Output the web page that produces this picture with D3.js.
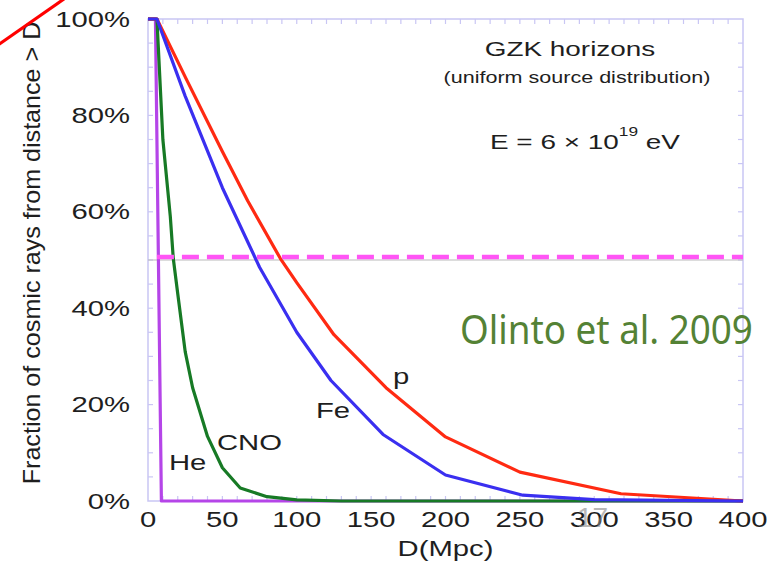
<!DOCTYPE html>
<html>
<head>
<meta charset="utf-8">
<script src="https://cdn.jsdelivr.net/npm/d3@7"></script>
<style>
  html, body { margin: 0; padding: 0; background: #fff; }
  svg { display: block; }
</style>
</head>
<body>
<svg id="chart" width="773" height="561"></svg>
<script>
// Distance (Mpc) and fraction (%) of cosmic rays arriving from beyond D
const distanceTicks = [0, 50, 100, 150, 200, 250, 300, 350, 400];
const fractionTicks = [0, 20, 40, 60, 80, 100];

const protonD = [0, 6, 25, 50, 67, 89, 100, 125, 160, 200, 250, 318, 400];
const protonF = [100, 100, 88, 72.5, 62.3, 50.3, 45.3, 34.5, 23.5, 13.3, 6, 1.5, 0];

const ironD = [0, 6, 25, 50, 75, 100, 123, 158, 200, 252, 300, 400];
const ironF = [100, 100, 84, 65, 48.5, 35, 25, 13.8, 5.4, 1.2, 0.3, 0];

const cnoD = [0, 6, 10, 15, 17, 20, 25, 30, 40, 50, 62, 80, 100, 130, 400];
const cnoF = [100, 100, 75, 59, 50.3, 43, 31, 23.5, 13.4, 6.9, 2.7, 0.9, 0.25, 0, 0];

const heliumD = [0, 5, 9, 400];
const heliumF = [100, 100, 0, 0];

const halfLevel = 50.6;       // dashed "half of the flux" marker
const halfStart = 6;

const series = [
  { name: "He",  d: heliumD, f: heliumF, color: "#b545e8" },
  { name: "CNO", d: cnoD,    f: cnoF,    color: "#177a25" },
  { name: "p",   d: protonD, f: protonF, color: "#ff2a12" },
  { name: "Fe",  d: ironD,   f: ironF,   color: "#3a2ff0" }
];

const svg = d3.select("#chart");
const FONT = "'Liberation Sans', Arial, Helvetica, sans-serif";
const SX = 1.33; // horizontal stretch of the lettering

const x = d3.scaleLinear().domain([0, 400]).range([148, 743]);
const y = d3.scaleLinear().domain([0, 100]).range([501, 19]);

function label(txt, px, py, size, anchor, opts = {}) {
  return svg.append("text")
    .attr("transform", `translate(${px},${py}) scale(${opts.sx ?? SX},1)`)
    .attr("font-family", opts.family ?? FONT)
    .attr("font-size", size)
    .attr("fill", opts.fill ?? "#1e1e1e")
    .attr("text-anchor", anchor)
    .text(txt);
}

// frame
const frameColor = "#c9c6f4";
svg.append("rect")
  .attr("x", x(0)).attr("y", y(100))
  .attr("width", x(400) - x(0)).attr("height", y(0) - y(100))
  .attr("fill", "none").attr("stroke", frameColor).attr("stroke-width", 1.5);

// inward ticks on all four sides
const tickLen = 5;
const xMinor = d3.range(10, 400, 10);
const yMinor = d3.range(5, 100, 5);
const tickG = svg.append("g").attr("stroke", frameColor).attr("stroke-width", 1.2);
xMinor.forEach(v => {
  tickG.append("line").attr("x1", x(v)).attr("x2", x(v)).attr("y1", y(0)).attr("y2", y(0) - tickLen);
  tickG.append("line").attr("x1", x(v)).attr("x2", x(v)).attr("y1", y(100)).attr("y2", y(100) + tickLen);
});
yMinor.forEach(v => {
  tickG.append("line").attr("y1", y(v)).attr("y2", y(v)).attr("x1", x(0)).attr("x2", x(0) + tickLen);
  tickG.append("line").attr("y1", y(v)).attr("y2", y(v)).attr("x1", x(400)).attr("x2", x(400) - tickLen);
});

// faint 50% reference line
svg.append("line")
  .attr("x1", x(0)).attr("x2", x(400)).attr("y1", y(50)).attr("y2", y(50))
  .attr("stroke", "#b9b9b9").attr("stroke-width", 1);

// tick labels
distanceTicks.forEach(v => label(String(v), x(v), 527, 22, "middle"));
fractionTicks.forEach(v => label(v + "%", 130, y(v) + 7.5, 22, "end"));

// axis titles
label("D(Mpc)", (x(0) + x(400)) / 2, 556, 22, "middle");
const yTitle = svg.append("text")
  .attr("font-family", FONT).attr("font-size", 22).attr("fill", "#1e1e1e")
  .attr("text-anchor", "middle")
  .text("Fraction of cosmic rays from distance > D");
const yLen = yTitle.node().getComputedTextLength();
yTitle.attr("transform", `translate(40,253) rotate(-90) scale(${463 / yLen},1.08)`);

// survival curves
const line = d3.line().x(p => x(p[0])).y(p => y(p[1]));
series.forEach(s => {
  const pts = s.d.map((d, i) => [d, s.f[i]]);
  svg.append("path")
    .attr("d", line(pts))
    .attr("fill", "none")
    .attr("stroke", s.color)
    .attr("stroke-width", 3.2)
    .attr("stroke-linejoin", "round");
});

// half-flux dashed marker
svg.append("line")
  .attr("x1", x(halfStart)).attr("x2", x(400))
  .attr("y1", y(halfLevel)).attr("y2", y(halfLevel))
  .attr("stroke", "#ff55f5").attr("stroke-width", 4.5)
  .attr("stroke-dasharray", "17 8");

// curve names
label("p", 393, 384, 22, "start");
label("Fe", 316, 418, 22, "start");
label("CNO", 217, 450, 22, "start");
label("He", 169, 470, 22, "start");

// header text
label("GZK horizons", 570, 56, 21, "middle");
label("(uniform source distribution)", 577, 83, 16.2, "middle");
const eq = label("E = 6 \u00d7 10", 490, 149, 21, "start");
eq.append("tspan").attr("font-size", 13).attr("dy", -13).text("19");
eq.append("tspan").attr("dy", 13).text(" eV");

// citation
const cite = svg.append("text")
  .attr("font-family", "'Noto Sans', 'Open Sans', sans-serif")
  .attr("font-size", 40)
  .attr("fill", "#548235")
  .text("Olinto et al. 2009");
const w = cite.node().getComputedTextLength();
cite.attr("transform", `translate(460,344) scale(${293 / w},1)`);

// slide number and pointer stroke
svg.append("text")
  .attr("x", 577).attr("y", 527)
  .attr("font-family", FONT).attr("font-size", 28).attr("font-weight", 300)
  .attr("fill", "#8a8a8a").attr("opacity", 0.6)
  .text("17");
svg.append("line")
  .attr("x1", -2).attr("y1", 45).attr("x2", 64).attr("y2", -1)
  .attr("stroke", "#ff0000").attr("stroke-width", 3.2);
</script>
</body>
</html>
